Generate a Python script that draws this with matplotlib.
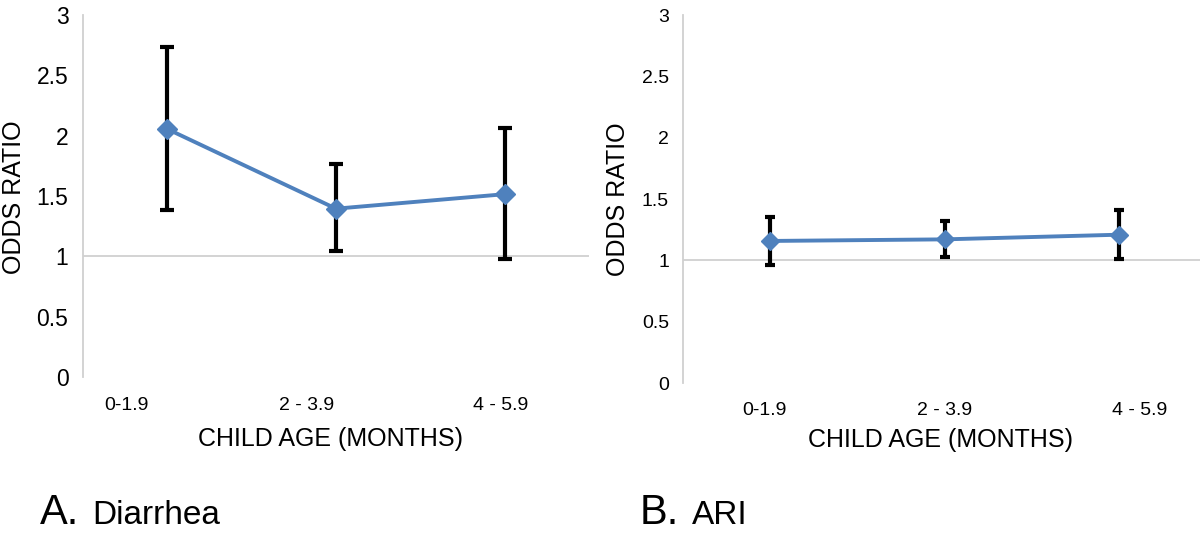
import matplotlib
matplotlib.use("Agg")
import matplotlib.pyplot as plt
from matplotlib.transforms import ScaledTranslation

plt.rcParams['font.family'] = ['Liberation Sans', 'DejaVu Sans']

# ---- data ----
age_groups = ["0-1.9", "2 - 3.9", "4 - 5.9"]

diarrhea_or = [2.055, 1.395, 1.515]
diarrhea_lo = [1.387, 1.041, 0.981]
diarrhea_hi = [2.735, 1.762, 2.063]

ari_or = [1.158, 1.171, 1.209]
ari_lo = [0.965, 1.027, 1.011]
ari_hi = [1.353, 1.318, 1.413]

y_ticks = [0, 0.5, 1, 1.5, 2, 2.5, 3]
y_tick_labels = ["0", "0.5", "1", "1.5", "2", "2.5", "3"]

panel_titles = [("A.", "Diarrhea"), ("B.", "ARI")]

LINE_BLUE = "#4F81BD"
GRID_GRAY = "#D0D0D0"

fig = plt.figure(figsize=(12, 5.33), dpi=100)

W, H = 1200.0, 533.0


def make_axes(left_px, right_px, top_px, bottom_px):
    return fig.add_axes([left_px / W, 1 - bottom_px / H,
                         (right_px - left_px) / W, (bottom_px - top_px) / H])


def draw_panel(ax, vals, lo, hi, ytick_fs, ypad, xtick_fs, xpad, ms, capsize,
               label_dx):
    x = list(range(len(age_groups)))
    yerr_lo = [v - l for v, l in zip(vals, lo)]
    yerr_hi = [h - v for v, h in zip(vals, hi)]
    ax.errorbar(x, vals, yerr=[yerr_lo, yerr_hi], fmt="none", ecolor="black",
                elinewidth=3.0, capsize=capsize, capthick=3.0, zorder=2)
    ax.plot(x, vals, color=LINE_BLUE, lw=2.8, marker="D", ms=ms,
            markerfacecolor=LINE_BLUE, markeredgecolor=LINE_BLUE, zorder=3)
    ax.axhline(1, color=GRID_GRAY, lw=1.3, zorder=1)
    ax.set_xlim(-0.5, len(age_groups) - 0.5)
    ax.set_ylim(0, 3)
    ax.set_yticks(y_ticks, y_tick_labels)
    ax.set_xticks(x, age_groups)
    for s in ["top", "right", "bottom"]:
        ax.spines[s].set_visible(False)
    ax.spines["left"].set_color(GRID_GRAY)
    ax.spines["left"].set_linewidth(1.3)
    ax.tick_params(axis="y", length=0, pad=ypad, labelsize=ytick_fs)
    ax.tick_params(axis="x", length=0, pad=xpad, labelsize=xtick_fs)
    for lab, dx in zip(ax.get_xticklabels(), label_dx):
        lab.set_transform(lab.get_transform() +
                          ScaledTranslation(dx / 100.0, 0, fig.dpi_scale_trans))
    ax.patch.set_alpha(0)


# Left panel (Diarrhea)
axA = make_axes(83, 589, 15, 377)
draw_panel(axA, diarrhea_or, diarrhea_lo, diarrhea_hi,
           ytick_fs=16.5, ypad=10.5, xtick_fs=14, xpad=14.5, ms=10.5,
           capsize=4.8, label_dx=[-41, -29, -4])

# Right panel (ARI)
axB = make_axes(683, 683 + 3 * 174.5, 15, 383)
draw_panel(axB, ari_or, ari_lo, ari_hi,
           ytick_fs=14, ypad=10, xtick_fs=14, xpad=13.5, ms=9.5,
           capsize=3.8, label_dx=[-6, 0, 20])

# Axis labels
fig.text(14 / W, 1 - 197 / H, "ODDS RATIO", rotation=90, fontsize=18,
         ha="center", va="center")
fig.text(618 / W, 1 - 199 / H, "ODDS RATIO", rotation=90, fontsize=18,
         ha="center", va="center")
fig.text(331 / W, 1 - 439 / H, "CHILD AGE (MONTHS)", fontsize=18,
         ha="center", va="center")
fig.text(941 / W, 1 - 440 / H, "CHILD AGE (MONTHS)", fontsize=18,
         ha="center", va="center")

# Panel captions
for (letter, name), x0 in zip(panel_titles, [40, 640]):
    fig.text(x0 / W, 1 - 524 / H, letter, fontsize=30, ha="left",
             va="baseline")
    fig.text((x0 + 52) / W, 1 - 524 / H, name, fontsize=24, ha="left",
             va="baseline")

fig.savefig("out.png", dpi=100, facecolor="white")
